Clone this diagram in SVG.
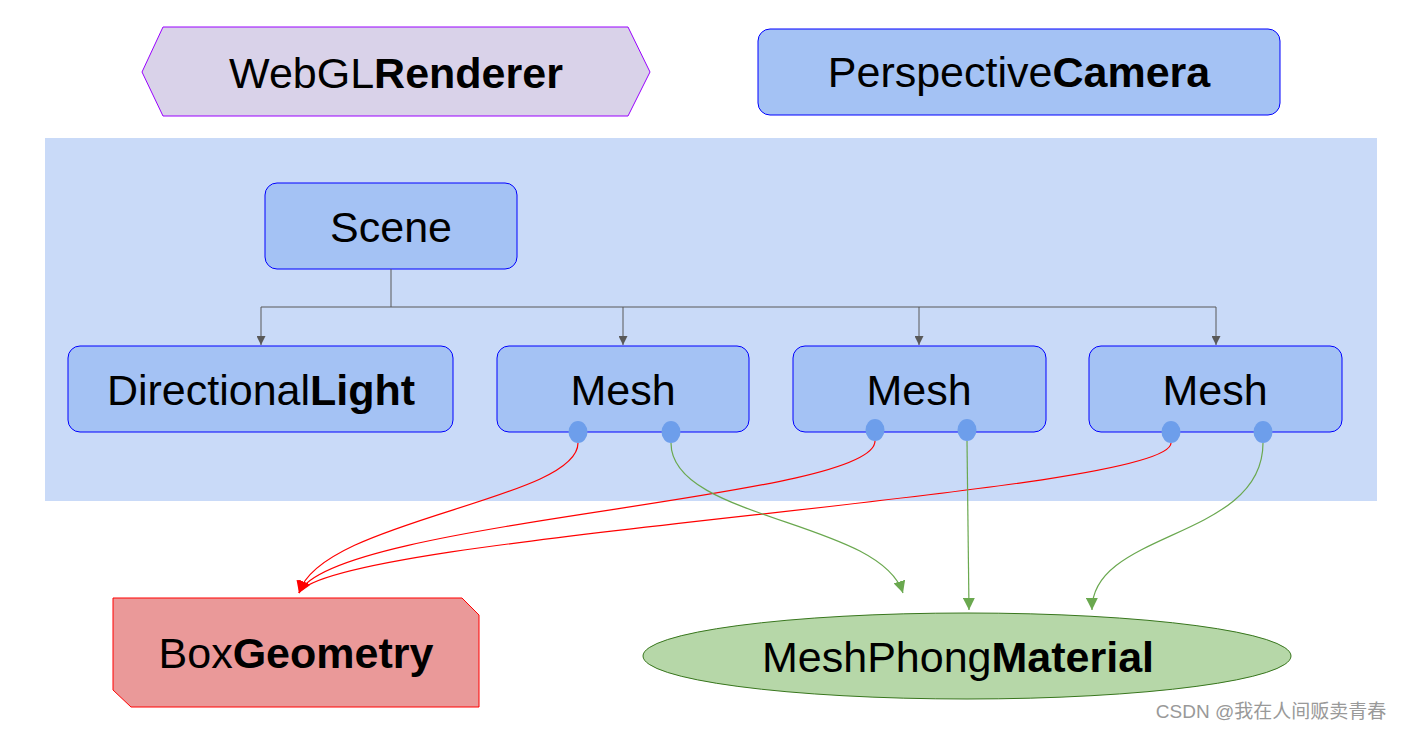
<svg xmlns="http://www.w3.org/2000/svg" width="1402" height="731" viewBox="0 0 1402 731">
<style>
text{font-family:"Liberation Sans",Arial,sans-serif;font-size:43px;fill:#000;text-anchor:middle}
.b{font-weight:bold}
.box{fill:#a4c2f4;stroke:#0000ff;stroke-width:1}
.port{fill:#6d9eeb}
.tree{fill:none;stroke:#595959;stroke-width:1}
.red{fill:none;stroke:#ff0000;stroke-width:1.2}
.green{fill:none;stroke:#6aa84f;stroke-width:1.2}
</style>
<defs>
<marker id="ag" markerWidth="11" markerHeight="9" refX="10" refY="5" orient="auto" markerUnits="userSpaceOnUse" viewBox="0 0 10 10"><path d="M0,0 L10,5 L0,10 Z" fill="#595959"/></marker>
<marker id="ar" markerWidth="12" markerHeight="12" refX="10" refY="5" orient="auto" markerUnits="userSpaceOnUse" viewBox="0 0 10 10"><path d="M0,0 L10,5 L0,10 Z" fill="#ff0000"/></marker>
<marker id="agr" markerWidth="12" markerHeight="12" refX="10" refY="5" orient="auto" markerUnits="userSpaceOnUse" viewBox="0 0 10 10"><path d="M0,0 L10,5 L0,10 Z" fill="#6aa84f"/></marker>
</defs>
<rect width="1402" height="731" fill="#fff"/>
<g id="container"><rect x="45" y="138" width="1332" height="363" fill="#c9daf8"/></g>
<g id="renderer">
<polygon points="142,72 163,27 628,27 650,72 628,116 163,116" fill="#d9d2e9" stroke="#9900ff" stroke-width="1"/>
<text x="396" y="88">WebGL<tspan class="b">Renderer</tspan></text>
</g>
<g id="camera">
<rect class="box" x="758" y="29" width="522" height="86" rx="12"/>
<text x="1019" y="87">Perspective<tspan class="b">Camera</tspan></text>
</g>
<g id="scene">
<rect class="box" x="265" y="183" width="252" height="86" rx="12"/>
<text x="391" y="242">Scene</text>
</g>
<g id="light">
<rect class="box" x="68" y="346" width="385" height="86" rx="12"/>
<text x="261" y="405">Directional<tspan class="b">Light</tspan></text>
</g>
<g id="mesh1">
<rect class="box" x="497" y="346" width="252" height="86" rx="12"/>
<text x="623" y="405">Mesh</text>
<ellipse class="port" cx="578" cy="432" rx="9.5" ry="11"/>
<ellipse class="port" cx="671" cy="432" rx="9.5" ry="11"/>
</g>
<g id="mesh2">
<rect class="box" x="793" y="346" width="253" height="86" rx="12"/>
<text x="919" y="405">Mesh</text>
<ellipse class="port" cx="875" cy="430" rx="9.5" ry="11"/>
<ellipse class="port" cx="967" cy="430" rx="9.5" ry="11"/>
</g>
<g id="mesh3">
<rect class="box" x="1089" y="346" width="253" height="86" rx="12"/>
<text x="1215" y="405">Mesh</text>
<ellipse class="port" cx="1171" cy="432" rx="9.5" ry="11"/>
<ellipse class="port" cx="1263" cy="432" rx="9.5" ry="11"/>
</g>
<g id="geometry">
<polygon points="113,598 462,598 479,615 479,707 131,707 113,690" fill="#ea9999" stroke="#ff0000" stroke-width="1"/>
<text x="296" y="668">Box<tspan class="b">Geometry</tspan></text>
</g>
<g id="material">
<ellipse cx="967" cy="656" rx="324" ry="43" fill="#b6d7a8" stroke="#38761d" stroke-width="1"/>
<text x="958" y="672">MeshPhong<tspan class="b">Material</tspan></text>
</g>
<g id="connectors">
<path class="tree" d="M391,269 V307" stroke-width="1.6"/>
<path class="tree" d="M261,307 H1216"/>
<path class="tree" d="M261,307 V345" marker-end="url(#ag)"/>
<path class="tree" d="M623,307 V345" marker-end="url(#ag)"/>
<path class="tree" d="M919,307 V345" marker-end="url(#ag)"/>
<path class="tree" d="M1216,307 V345" marker-end="url(#ag)"/>
<path class="red" d="M578,443 C578,500 320,520 299,593" marker-end="url(#ar)"/>
<path class="red" d="M875,441 C875,500 330,520 299,593" marker-end="url(#ar)"/>
<path class="red" d="M1171,443 C1171,495 330,535 299,593" marker-end="url(#ar)"/>
<path class="green" d="M671,443 C671,520 880,520 903,593" marker-end="url(#agr)"/>
<path class="green" d="M967,441 L969,610" marker-end="url(#agr)"/>
<path class="green" d="M1263,443 C1263,540 1091,530 1092,610" marker-end="url(#agr)"/>
</g>
<text x="1271" y="718" style="font-family:'Liberation Sans','Noto Sans CJK SC',sans-serif;font-size:19px;fill:#999">CSDN @我在人间贩卖青春</text>
</svg>
